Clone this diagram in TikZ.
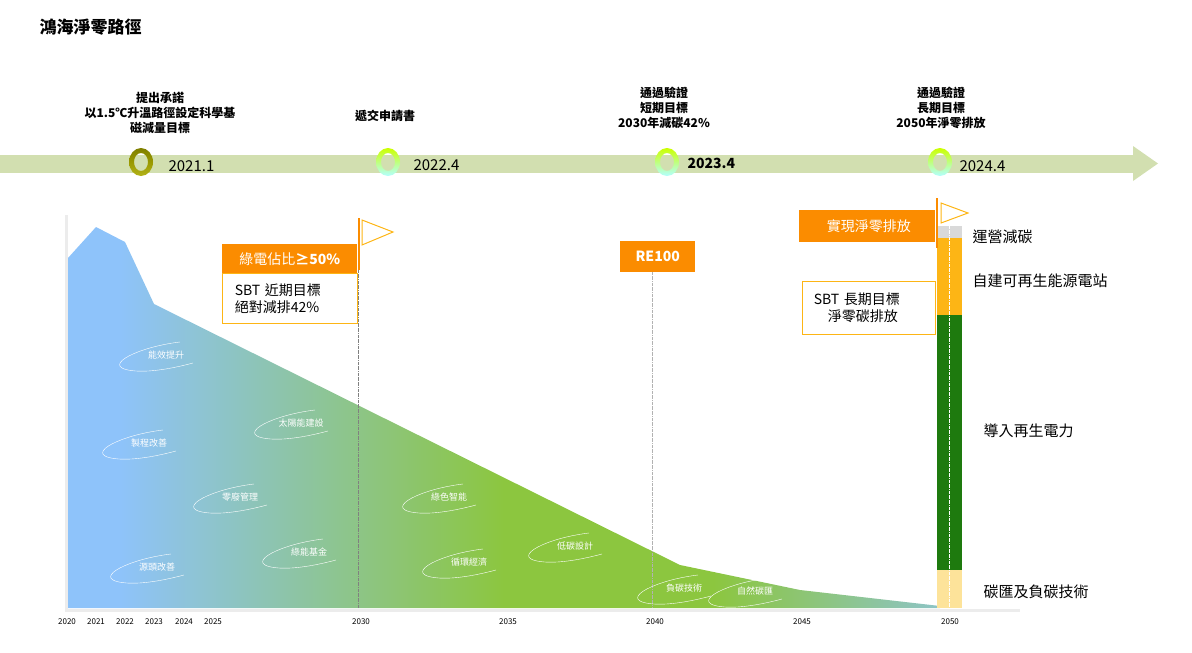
\documentclass[tikz,border=0pt]{standalone}
\usepackage{fontspec}
\setmainfont{Noto Sans CJK TC}
\usetikzlibrary{arrows.meta,shadings}
\definecolor{skyblue}{HTML}{8EC3FA}
\definecolor{leafgreen}{HTML}{8CC63F}
\definecolor{flagorange}{HTML}{FB8C00}
\definecolor{boxline}{HTML}{FDB515}
\definecolor{barolive}{HTML}{D2DFB0}
\definecolor{deepgreen}{HTML}{1E7A0E}
\definecolor{paleyellow}{HTML}{FDE39A}
\pgfdeclarehorizontalshading{pathshade}{100bp}{color(0bp)=(skyblue);
  color(28bp)=(skyblue); color(50bp)=(leafgreen); color(62bp)=(leafgreen);
  color(80bp)=(skyblue); color(100bp)=(skyblue)}
\pgfdeclarehorizontalshading{barshade}{100bp}{color(0bp)=(white);
  color(12bp)=(barolive); color(100bp)=(barolive)}
\tikzset{
  milestone/.style={font=\bfseries\fontsize{12}{15}\selectfont, align=center},
  datelabel/.style={font=\fontsize{15}{18}\selectfont, anchor=west},
  orangebox/.style={fill=flagorange, text=white, font=\fontsize{14}{17}\selectfont, anchor=north west, inner sep=0pt},
  linebox/.style={draw=boxline, line width=1.2pt, fill=white, align=left, font=\fontsize{14}{17}\selectfont, anchor=north west, inner sep=0pt},
  barlabel/.style={font=\fontsize{15}{18}\selectfont, anchor=west},
  yearlabel/.style={font=\fontsize{8}{10}\selectfont},
  swirltext/.style={text=white, font=\fontsize{9}{11}\selectfont},
}
\newcommand{\swirl}[4]{% name, x, y, text
  \draw[white, thin] (#2+22,#3-13) .. controls (#2-20,#3-8) and (#2-55,#3+10) .. (#2-30,#3+15)
    .. controls (#2-10,#3+19) and (#2+20,#3+12) .. (#2+35,#3+8);
  \node[swirltext] (#1) at (#2+8,#3) {#4};}
\begin{document}
\begin{tikzpicture}[x=1pt,y=-1pt]
  \useasboundingbox (0,0) rectangle (1192,653);
  \node[anchor=west, font=\bfseries\fontsize{17}{20}\selectfont] (title) at (36,27) {鴻海淨零路徑};
  % timeline bar
  \shade[shading=barshade] (0,155) rectangle (1135,172);
  \fill[barolive] (1133,146) -- (1158,163.5) -- (1133,181) -- cycle;
  \foreach \cx/\ca/\cb in {141/olive/olive!60, 388/yellow!80!green/cyan!30, 667/yellow!80!green/cyan!30, 940/yellow!80!green/cyan!30}
    \shade[even odd rule, top color=\ca, bottom color=\cb] (\cx,162) ellipse (12 and 14) (\cx,162) ellipse (7 and 9);
  \node[datelabel] (d1) at (165,166) {2021.1};
  \node[datelabel] (d2) at (410,165) {2022.4};
  \node[datelabel, font=\bfseries\fontsize{14}{17}\selectfont] (d3) at (684,163) {2023.4};
  \node[datelabel] (d4) at (956,166) {2024.4};
  \node[milestone] (m1) at (160,113) {提出承諾\\以1.5℃升溫路徑設定科學基\\磁減量目標};
  \node[milestone] (m2) at (385,116) {遞交申請書};
  \node[milestone] (m3) at (664,108) {通過驗證\\短期目標\\2030年減碳42\%};
  \node[milestone] (m4) at (941,108) {通過驗證\\長期目標\\2050年淨零排放};
  % axes
  \draw[gray!15, line width=3pt] (66,215) -- (66,610) -- (1020,610);
  % area
  \shade[shading=pathshade] (68,258) -- (96,227) -- (125,242) -- (154,304) -- (680,565)
    -- (800,590) -- (940,606) -- (940,608) -- (68,608) -- cycle;
  \foreach \yr/\xp in {2020/67,2021/96,2022/125,2023/154,2024/184,2025/213,2030/361,2035/508,2040/655,2045/802,2050/950}
    \node[yearlabel] (y\yr) at (\xp,622) {\yr};
  % guide lines
  \draw[gray, densely dash dot, thin] (358,270) -- (358,608);
  \draw[gray!60, densely dash dot, thin] (652,272) -- (652,608);
  % swirls
  \swirl{s1}{158}{355}{能效提升}
  \swirl{s2}{141}{443}{製程改善}
  \swirl{s3}{293}{423}{太陽能建設}
  \swirl{s4}{232}{497}{零廢管理}
  \swirl{s5}{441}{497}{綠色智能}
  \swirl{s6}{149}{567}{源頭改善}
  \swirl{s7}{301}{552}{綠能基金}
  \swirl{s8}{461}{562}{循環經濟}
  \swirl{s9}{567}{546}{低碳設計}
  \swirl{s10}{676}{588}{負碳技術}
  \swirl{s11}{747}{591}{自然碳匯}
  % 2030 flag
  \draw[flagorange, line width=1.5pt] (359,218) -- (359,270);
  \draw[boxline, line width=1pt] (362,220) -- (393,232) -- (362,245) -- cycle;
  \node[orangebox, minimum width=135, minimum height=29] (green50) at (222,244) {綠電佔比\bfseries ≥50\%};
  \node[linebox, minimum width=135, minimum height=50, text width=120] (sbtnear) at (222,273) {\ SBT 近期目標\\\ 絕對減排42\%};
  \node[orangebox, font=\bfseries\fontsize{14}{17}\selectfont, minimum width=75, minimum height=31] (re100) at (620,241) {RE100};
  % 2050 bar
  \fill[gray!30] (937,226) rectangle (962,238);
  \fill[boxline] (937,238) rectangle (962,315);
  \fill[deepgreen] (937,315) rectangle (962,570);
  \fill[paleyellow] (937,570) rectangle (962,608);
  \draw[white, densely dash dot, thin] (949,226) -- (949,608);
  \draw[flagorange, line width=1.5pt] (937,198) -- (937,248);
  \draw[boxline, line width=1pt] (941,203) -- (968,213) -- (941,223) -- cycle;
  \node[orangebox, minimum width=136, minimum height=32] (netzero) at (799,210) {\ 實現淨零排放};
  \node[linebox, minimum width=133, minimum height=53, text width=120] (sbtlong) at (802,281) {\ SBT 長期目標\\\quad\ 淨零碳排放};
  \node[barlabel] (b1) at (969,237) {運營減碳};
  \node[barlabel] (b2) at (969,281) {自建可再生能源電站};
  \node[barlabel] (b3) at (980,431) {導入再生電力};
  \node[barlabel] (b4) at (980,592) {碳匯及負碳技術};
\end{tikzpicture}
\end{document}
